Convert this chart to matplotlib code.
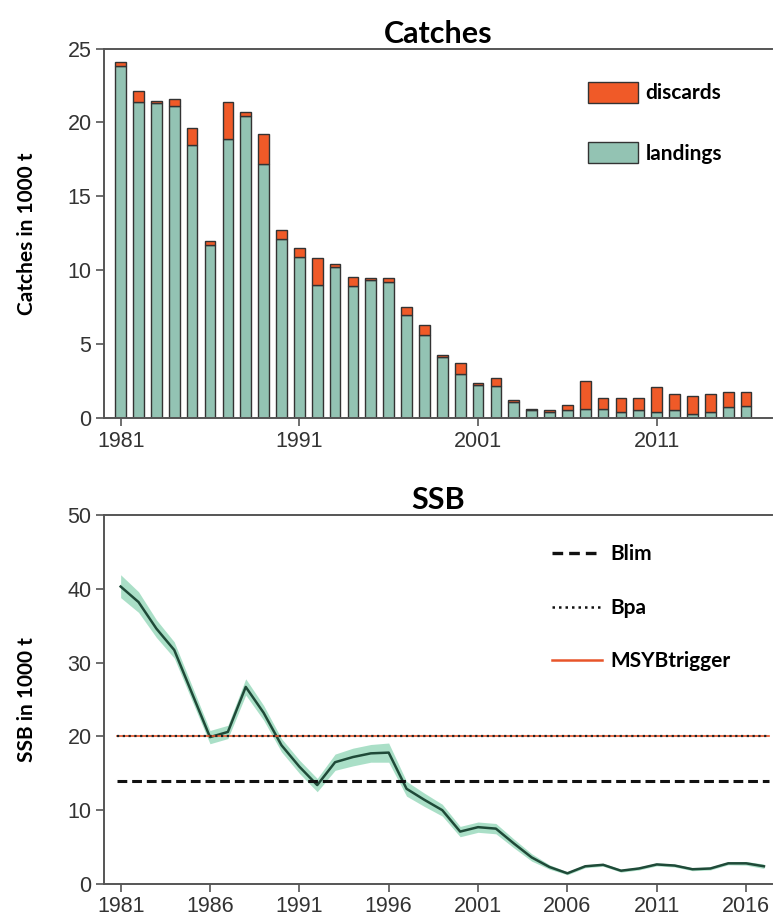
import matplotlib
matplotlib.use("Agg")
import matplotlib.pyplot as plt
from matplotlib.lines import Line2D
from matplotlib.patches import Patch
import numpy as np

# catches, 1000 t
catch_years = list(range(1981, 2017))
landings = [23.8, 21.4, 21.3, 21.1, 18.5, 11.7, 18.9, 20.4, 17.2, 12.1,
            10.9, 9.0, 10.2, 8.9, 9.37, 9.2, 6.95, 5.6, 4.1, 3.0,
            2.26, 2.2, 1.08, 0.52, 0.4, 0.52, 0.63, 0.63, 0.4, 0.52,
            0.4, 0.52, 0.3, 0.4, 0.75, 0.8]
discards = [0.3, 0.7, 0.15, 0.5, 1.1, 0.3, 2.45, 0.3, 2.0, 0.6,
            0.6, 1.8, 0.2, 0.65, 0.13, 0.24, 0.55, 0.7, 0.15, 0.72,
            0.11, 0.53, 0.16, 0.11, 0.12, 0.34, 1.87, 0.75, 0.98, 0.86,
            1.7, 1.08, 1.17, 1.2, 1.01, 0.96]

# spawning stock biomass, 1000 t
ssb_years = list(range(1981, 2018))
ssb = [40.3, 38.2, 34.6, 31.7, 25.8, 19.9, 20.6, 26.7, 23.2, 18.8,
       15.9, 13.4, 16.5, 17.2, 17.7, 17.8, 12.9, 11.4, 10.0, 7.1,
       7.7, 7.5, 5.5, 3.6, 2.3, 1.45, 2.4, 2.6, 1.8, 2.1,
       2.65, 2.5, 2.0, 2.1, 2.8, 2.8, 2.4]
ssb_low = [38.8, 36.8, 33.4, 30.6, 24.8, 19.0, 19.7, 25.6, 22.2, 17.9,
           15.0, 12.5, 15.4, 16.0, 16.5, 16.5, 11.9, 10.5, 9.2, 6.4,
           7.0, 6.8, 4.9, 3.1, 2.0, 1.25, 2.2, 2.4, 1.6, 1.9,
           2.45, 2.3, 1.8, 1.9, 2.6, 2.55, 2.1]
ssb_high = [41.9, 39.6, 35.8, 32.8, 26.8, 20.8, 21.5, 27.8, 24.2, 19.7,
            16.8, 14.3, 17.6, 18.4, 18.9, 19.1, 13.9, 12.3, 10.8, 7.8,
            8.4, 8.2, 6.1, 4.1, 2.6, 1.65, 2.6, 2.8, 2.0, 2.3,
            2.85, 2.7, 2.2, 2.3, 3.0, 3.05, 2.7]

blim = 14
bpa = 20
msy_btrigger = 20

LANDING_COLOR = "#93c3b3"
DISCARD_COLOR = "#f05a28"
EDGE = "#333333"
SPINE = "#555555"
BOLD_FONT = ["Lato", "DejaVu Sans"]

plt.rcParams["font.family"] = ["Liberation Sans", "DejaVu Sans"]


def style_axes(ax):
    ax.spines["right"].set_visible(False)
    for side in ("top", "left", "bottom"):
        ax.spines[side].set_color(SPINE)
        ax.spines[side].set_linewidth(1.4)
    ax.tick_params(direction="out", length=6, width=1.2, color=SPINE,
                   labelsize=15.5, labelcolor="#333333", pad=3)
    ax.set_xlim(1980.07, 2017.45)


fig = plt.figure(figsize=(7.74, 9.24), dpi=100)

# --- Catches ---
ax1 = fig.add_axes([0.1344, 0.5476, 0.863, 0.3999])
ax1.bar(catch_years, landings, width=0.6, color=LANDING_COLOR,
        edgecolor=EDGE, linewidth=1.0, label="landings")
ax1.bar(catch_years, discards, width=0.6, bottom=landings, color=DISCARD_COLOR,
        edgecolor=EDGE, linewidth=1.0, label="discards")
style_axes(ax1)
ax1.set_ylim(0, 25)
ax1.set_yticks([0, 5, 10, 15, 20, 25])
ax1.set_xticks([1981, 1991, 2001, 2011])
ax1.set_title("Catches", fontsize=22, fontweight="bold", family=BOLD_FONT, pad=4)
ax1.set_ylabel("Catches in 1000 t", fontsize=15, fontweight="bold", family=BOLD_FONT)
ax1.yaxis.set_label_coords(-0.1, 0.5)
handles = [Patch(facecolor=DISCARD_COLOR, edgecolor=EDGE, label="discards"),
           Patch(facecolor=LANDING_COLOR, edgecolor=EDGE, label="landings")]
ax1.legend(handles=handles, loc="upper left", bbox_to_anchor=(0.7246, 0.91),
           frameon=False, borderpad=0, borderaxespad=0,
           handlelength=2.4, handleheight=1.2,
           labelspacing=1.85, handletextpad=0.35,
           prop={"family": BOLD_FONT, "weight": "bold", "size": 15})

# --- SSB ---
ax2 = fig.add_axes([0.1344, 0.0433, 0.863, 0.3994])
ax2.fill_between(ssb_years, ssb_low, ssb_high, color="#95d8ba", alpha=0.8,
                 linewidth=0)
ax2.plot(ssb_years, ssb, color="#1f4a38", linewidth=1.8)
ax2.axhline(msy_btrigger, xmin=0.02, xmax=0.995, color="#e8552a", linewidth=1.2)
ax2.axhline(bpa, xmin=0.02, xmax=0.995, color="#222222", linewidth=1.6,
            linestyle=(0, (1, 1.6)))
ax2.axhline(blim, xmin=0.02, xmax=0.995, color="#111111", linewidth=2.2,
            linestyle=(0, (3.2, 1.6)))
style_axes(ax2)
ax2.set_ylim(0, 50)
ax2.set_yticks([0, 10, 20, 30, 40, 50])
ax2.set_xticks(list(range(1981, 2017, 5)))
ax2.set_title("SSB", fontsize=22, fontweight="bold", family=BOLD_FONT, pad=4)
ax2.set_ylabel("SSB in 1000 t", fontsize=15, fontweight="bold", family=BOLD_FONT)
ax2.yaxis.set_label_coords(-0.1, 0.5)
ref_handles = [Line2D([], [], color="#111111", linewidth=2.4, linestyle=(0, (3.2, 1.8)), label="Blim"),
               Line2D([], [], color="#111111", linewidth=1.8, linestyle=(0, (1, 1.6)), label="Bpa"),
               Line2D([], [], color="#e8552a", linewidth=1.8, label="MSYBtrigger")]
ax2.legend(handles=ref_handles, loc="upper left", bbox_to_anchor=(0.671, 0.92),
           frameon=False, borderpad=0, borderaxespad=0,
           handlelength=2.4, labelspacing=1.6, handletextpad=0.4,
           prop={"family": BOLD_FONT, "weight": "bold", "size": 15})

fig.savefig("out.png", dpi=100)
